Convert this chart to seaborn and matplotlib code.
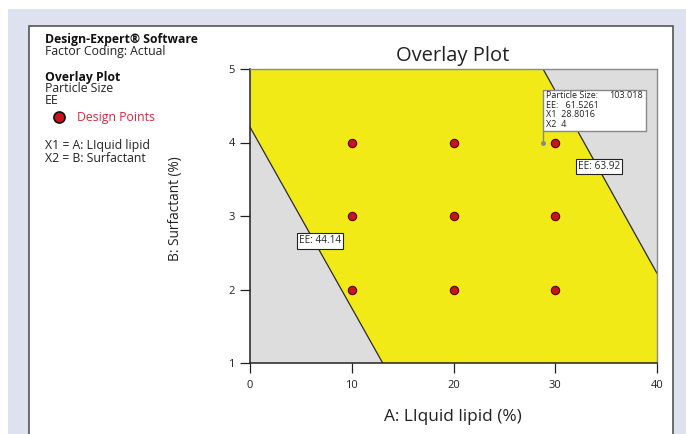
import numpy as np
import pandas as pd
import matplotlib
matplotlib.use("Agg")
import matplotlib.pyplot as plt
from matplotlib.patches import Rectangle
from matplotlib.lines import Line2D
import seaborn as sns

# Factor grid of the design points
lipid_pts = [10, 10, 10, 20, 20, 20, 30, 30, 30]
surf_pts = [2, 3, 4, 2, 3, 4, 2, 3, 4]

# Constraint boundaries (x1, x2) endpoints
ee_low_line = [(0.0, 4.21), (13.04, 1.0)]     # EE: 44.14
ee_high_line = [(28.8, 5.0), (40.0, 2.22)]    # EE: 63.92
ee_low_label = "EE: 44.14"
ee_high_label = "EE: 63.92"

# Flag readout
flag_x1 = 28.8016
flag_x2 = 4
flag_particle = 103.018
flag_ee = 61.5261

x_ticks = [0, 10, 20, 30, 40]
y_ticks = [1, 2, 3, 4, 5]

W, H = 686, 434
sns.set_theme(style="white")
plt.rcParams["font.family"] = ["Open Sans", "DejaVu Sans"]

fig = plt.figure(figsize=(W / 100, H / 100), dpi=100)
fig.patch.set_facecolor("white")

def fx(px):
    return px / W

def fy(py):
    return 1 - py / H

# Lavender surround and white panel
fig.patches.append(Rectangle((fx(8), 0), fx(W - 8), fy(9), transform=fig.transFigure,
                             facecolor="#dde1f0", edgecolor="none", zorder=-3))
fig.patches.append(Rectangle((fx(29), -0.01), fx(673 - 29), fy(26) + 0.01,
                             transform=fig.transFigure, facecolor="white",
                             edgecolor="#555555", linewidth=1.2, zorder=-2))

ax = fig.add_axes([fx(250), fy(363), fx(657 - 250), (363 - 69) / H])
ax.set_zorder(2)
ax.set_facecolor("#dddddd")
xmin, xmax, ymin, ymax = 0, 40, 1, 5
ax.set_xlim(xmin, xmax)
ax.set_ylim(ymin, ymax)

# Feasible (yellow) region between the two EE boundaries
poly = [(xmin, ymax), ee_high_line[0], ee_high_line[1], (xmax, ymin),
        ee_low_line[1], ee_low_line[0]]
px_, py_ = zip(*poly)
ax.fill(px_, py_, color="#f2ea17", zorder=1, linewidth=0)

for line in (ee_low_line, ee_high_line):
    (xa, ya), (xb, yb) = line
    ax.plot([xa, xb], [ya, yb], color="#2a2a2a", linewidth=0.9, zorder=2)

# Boundary labels
bbox = dict(boxstyle="square,pad=0.22", facecolor="white", edgecolor="#222222", linewidth=0.8)
ax.text(6.9, 2.66, ee_low_label, fontsize=7.2, ha="center", va="center", bbox=bbox, zorder=5)
ax.text(34.3, 3.67, ee_high_label, fontsize=7.2, ha="center", va="center", bbox=bbox, zorder=5)

# Design points
df = pd.DataFrame({"A": lipid_pts, "B": surf_pts})
sns.scatterplot(data=df, x="A", y="B", ax=ax, s=36, color="#c8141e",
                edgecolor="#4a0808", linewidth=0.8, zorder=4, legend=False)

# Flag with readout box
ax.plot([flag_x1, flag_x1], [flag_x2, flag_x2 + 0.16], color="#888888", linewidth=1, zorder=5)
ax.plot([flag_x1], [flag_x2], marker="o", markersize=2.5, color="#888888", zorder=5)
box_w, box_h = 10.1, 0.56
ax.add_patch(Rectangle((flag_x1, flag_x2 + 0.16), box_w, box_h, facecolor="white",
                       edgecolor="#888888", linewidth=1, zorder=5))
rows = [("Particle Size:", f"{flag_particle:.3f}"), ("EE:   " + f"{flag_ee}", ""),
        ("X1  " + f"{flag_x1}", ""), ("X2  " + f"{flag_x2}", "")]
for i, (left, right) in enumerate(rows):
    yy = flag_x2 + 0.16 + box_h - 0.085 - i * 0.13
    ax.text(flag_x1 + 0.25, yy, left, fontsize=6.5, va="center", ha="left", color="#222222", zorder=6)
    if right:
        ax.text(flag_x1 + box_w - 0.25, yy, right, fontsize=6.5, va="center", ha="right",
                color="#222222", zorder=6)

ax.set_xticks(x_ticks)
ax.set_yticks(y_ticks)
ax.set_xticklabels([str(v) for v in x_ticks])
ax.set_yticklabels([str(v) for v in y_ticks])
ax.tick_params(axis="both", which="both", direction="out", length=7, width=0.9,
               colors="#222222", labelsize=8, bottom=True, left=True)
ax.tick_params(axis="x", pad=5)
ax.tick_params(axis="y", pad=4)
for side in ("left", "bottom"):
    ax.spines[side].set_color("#222222")
    ax.spines[side].set_linewidth(1.1)
for side in ("top", "right"):
    ax.spines[side].set_color("#8a8a8a")
    ax.spines[side].set_linewidth(1.0)

ax.set_xlabel("")
ax.set_ylabel("")
fig.text(fx(453), fy(417), "A: LIquid lipid (%)", fontsize=12.4, ha="center", va="center", color="#222222")
fig.text(fx(176), fy(209), "B: Surfactant (%)", fontsize=9.8, ha="center", va="center",
         rotation=90, color="#222222")
fig.text(fx(453), fy(56), "Overlay Plot", fontsize=14.5, ha="center", va="center", color="#222222")

# Side legend panel
tx = fx(45)
fs = 8.8
fig.text(tx, fy(40), "Design-Expert® Software", fontsize=fs, fontweight="bold", va="center", color="#111111")
fig.text(tx, fy(52), "Factor Coding: Actual", fontsize=fs, va="center", color="#222222")
fig.text(tx, fy(77), "Overlay Plot", fontsize=fs, fontweight="bold", va="center", color="#111111")
fig.text(tx, fy(89), "Particle Size", fontsize=fs, va="center", color="#222222")
fig.text(tx, fy(101), "EE", fontsize=fs, va="center", color="#222222")
fig.add_artist(Line2D([fx(59)], [fy(117)], marker="o", markersize=8,
                      markerfacecolor="#c8141e", markeredgecolor="#111111",
                      markeredgewidth=1.2, transform=fig.transFigure))
fig.text(fx(77), fy(117), "Design Points", fontsize=fs, va="center", color="#d8283a")
fig.text(tx, fy(146), "X1 = A: LIquid lipid", fontsize=fs, va="center", color="#222222")
fig.text(tx, fy(158), "X2 = B: Surfactant", fontsize=fs, va="center", color="#222222")

fig.savefig("out.png", dpi=100)
